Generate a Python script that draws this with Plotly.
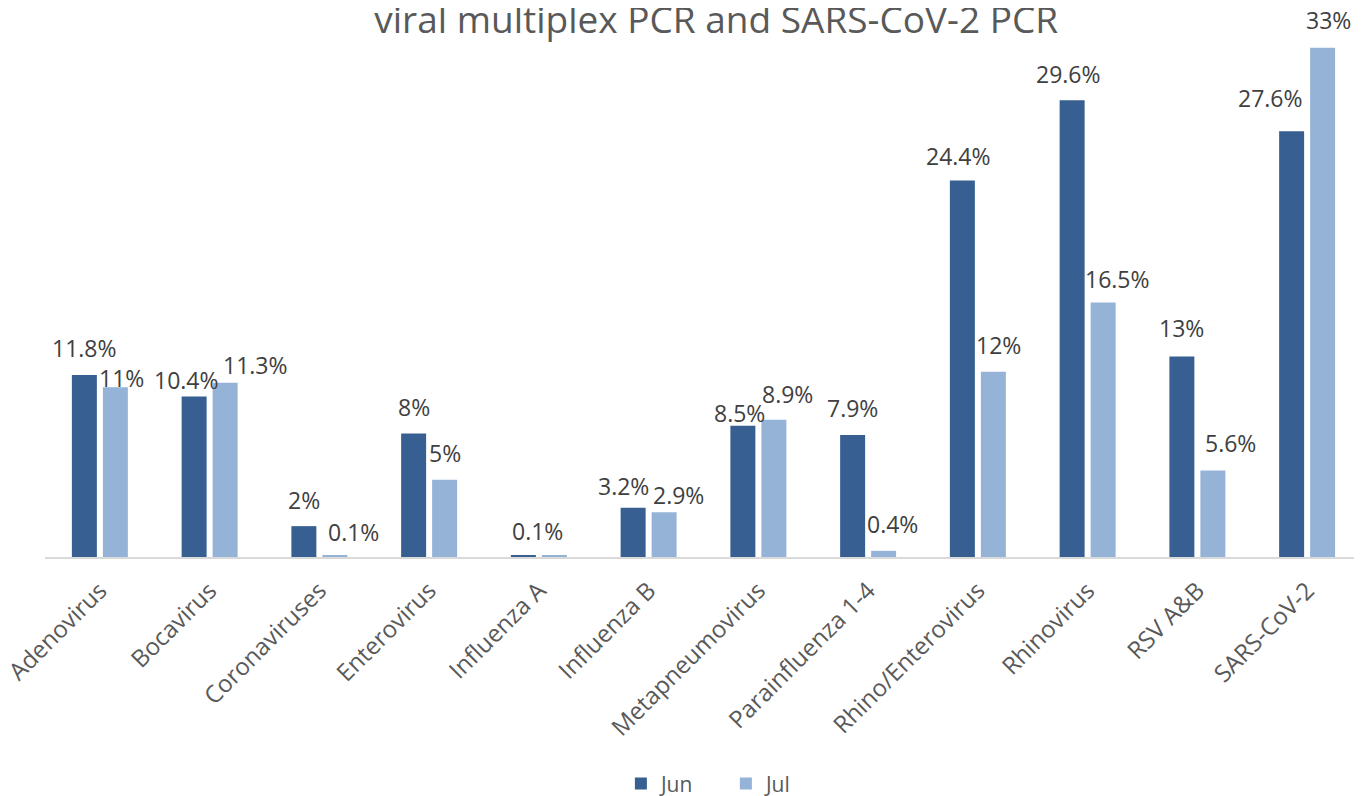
import plotly.graph_objects as go

categories = ["Adenovirus", "Bocavirus", "Coronaviruses", "Enterovirus", "Influenza A",
              "Influenza B", "Metapneumovirus", "Parainfluenza 1-4", "Rhino/Enterovirus",
              "Rhinovirus", "RSV A&B", "SARS-CoV-2"]
jun = [11.8, 10.4, 2.0, 8.0, 0.1, 3.2, 8.5, 7.9, 24.4, 29.6, 13.0, 27.6]
jul = [11.0, 11.3, 0.1, 5.0, 0.1, 2.9, 8.9, 0.4, 12.0, 16.5, 5.6, 33.0]
jun_labels = ["11.8%", "10.4%", "2%", "8%", "", "3.2%", "8.5%", "7.9%", "24.4%", "29.6%", "13%", "27.6%"]
jul_labels = ["11%", "11.3%", "0.1%", "5%", "0.1%", "2.9%", "8.9%", "0.4%", "12%", "16.5%", "5.6%", "33%"]

# label placement offsets (pixels) mimicking the original's label layout
jun_dx = [0, -8, 0, 0, 0, -10, -3, 0, -4, -4, 0, -21]
jun_dy = [27, 17, 26, 27, 24, 22, 13, 27, 25, 26, 28, 33]
jul_dx = [6, 30, 19, 0, -17, 14, 14, 9, 5, 14, 18, 6]
jul_dy = [9, 18, 23, 27, 24, 17, 26, 27, 27, 23, 28, 28]

JUN_C = "#375f91"
JUL_C = "#95b3d7"
FONT = "Open Sans"

fig = go.Figure()
fig.add_trace(go.Bar(name="Jun", x=categories, y=jun, marker=dict(color=JUN_C, line=dict(width=0)),
                     offsetgroup="a"))
fig.add_trace(go.Bar(name="Jul", x=categories, y=jul, marker=dict(color=JUL_C, line=dict(width=0)),
                     offsetgroup="b"))

annotations = []
for i, c in enumerate(categories):
    for vals, labs, dxs, dys, sign in ((jun, jun_labels, jun_dx, jun_dy, -1), (jul, jul_labels, jul_dx, jul_dy, 1)):
        if not labs[i]:
            continue
        annotations.append(dict(
            x=c, y=vals[i], xref="x", yref="y", text=labs[i], showarrow=False,
            xanchor="center", yanchor="middle",
            xshift=sign * 15.5 + dxs[i], yshift=dys[i],
            font=dict(family=FONT, size=23, color="#404040"),
        ))

fig.update_layout(
    width=1362, height=796,
    paper_bgcolor="white", plot_bgcolor="white",
    margin=dict(l=37, r=8, t=9, b=247, pad=0, autoexpand=False),
    barmode="group", bargap=0.435, bargroupgap=0.194,
    title=dict(text="viral multiplex PCR and SARS-CoV-2 PCR", x=0.52, xanchor="center",
               y=0.985, yanchor="middle", yref="container", automargin=False,
               font=dict(family=FONT, size=37, color="#595959")),
    font=dict(family=FONT, color="#595959"),
    showlegend=True,
    legend=dict(orientation="h", x=0.517, xanchor="center", y=-0.42, yanchor="middle",
                font=dict(family=FONT, size=21, color="#595959"), itemwidth=30,
                entrywidth=60, entrywidthmode="pixels", traceorder="normal"),
    annotations=annotations,
)
fig.update_xaxes(showline=True, linecolor="#d9d9d9", linewidth=2, ticks="", tickangle=-45,
                 automargin=False, ticklabelstandoff=8,
                 tickfont=dict(family=FONT, size=24, color="#595959"), showgrid=False)
fig.update_yaxes(range=[0, 35], visible=False, showgrid=False, zeroline=False, automargin=False)

fig.write_html("out.html")
